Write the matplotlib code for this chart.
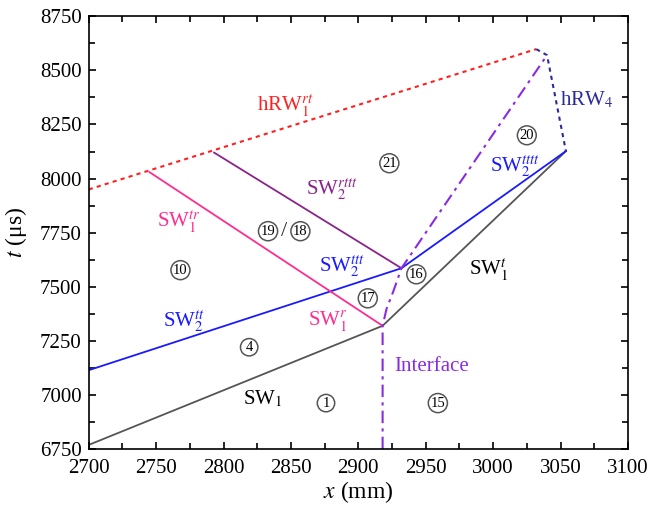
import matplotlib.pyplot as plt

plt.rcParams['font.family'] = ['Liberation Serif', 'DejaVu Serif']
plt.rcParams['mathtext.fontset'] = 'stix'

# wave paths (x in mm, t in us)
sw1_x = [2700, 2918, 3054]
sw1_t = [6770, 7320, 8127]
sw2_x = [2700, 2932, 3054]
sw2_t = [7115, 7586, 8127]
sw1tr_x = [2745, 2918]
sw1tr_t = [8030, 7320]
sw2rttt_x = [2793, 2932]
sw2rttt_t = [8120, 7586]
hrw1_x = [2700, 3032]
hrw1_t = [7950, 8598]
hrw4_x = [3032, 3040, 3054]
hrw4_t = [8598, 8570, 8127]
iface_x = [2918, 2918, 2921, 2926, 2932, 3040]
iface_t = [6750, 7320, 7400, 7480, 7586, 8570]

# region numbers
region_ids = ['1', '15', '4', '10', '17', '16', '19', '18', '21', '20']
region_x = [2876, 2959, 2819, 2768, 2907, 2943, 2833, 2857, 2923, 3025]
region_t = [6963, 6963, 7221, 7577, 7447, 7558, 7757, 7757, 8071, 8200]

# wave labels
labels = [r'hRW$_{\mathrm{1}}^{rt}$', r'SW$_{\mathrm{2}}^{rttt}$', r'SW$_{\mathrm{1}}^{tr}$',
          r'SW$_{\mathrm{2}}^{ttt}$', r'SW$_{\mathrm{1}}^{r}$', r'SW$_{\mathrm{2}}^{tt}$',
          r'SW$_{\mathrm{1}}$', r'SW$_{\mathrm{1}}^{t}$', r'SW$_{\mathrm{2}}^{tttt}$',
          r'hRW$_{\mathrm{4}}$', 'Interface']
label_x = [2846, 2880, 2767, 2888, 2877, 2771, 2829, 2997, 3016, 3069, 2954]
label_t = [8335, 7950, 7800, 7590, 7340, 7340, 6980, 7580, 8052, 8365, 7130]
label_colors = ['#ff2020', '#8b238b', '#ff2d8f', '#1a1aff', '#ff2d8f', '#1a1aff',
                'black', 'black', '#1a1aff', '#2a2aa0', '#8a2be2']

fig = plt.figure(figsize=(6.48, 5.07), dpi=100)
ax = fig.add_axes([0.137, 0.114, 0.832, 0.854])

ax.plot(hrw1_x, hrw1_t, color='#ff2020', ls=(0, (2, 2)), lw=1.5)
ax.plot(hrw4_x, hrw4_t, color='#2a2aa0', ls=(0, (2, 2)), lw=1.5)
ax.plot(sw1_x, sw1_t, color='#555555', lw=1.3)
ax.plot(sw2_x, sw2_t, color='#1a1aff', lw=1.3)
ax.plot(sw1tr_x, sw1tr_t, color='#ff2d8f', lw=1.3)
ax.plot(sw2rttt_x, sw2rttt_t, color='#8b238b', lw=1.3)
ax.plot(iface_x, iface_t, color='#8a2be2', ls=(0, (6, 2.5, 1.5, 2.5)), lw=1.5)

for s, x, t in zip(region_ids, region_x, region_t):
    ax.text(x, t, s, ha='center', va='center', fontsize=10.5,
            bbox=dict(boxstyle='circle,pad=0.15', fc='white', ec='#555555', lw=1.1))
ax.text((region_x[6] + region_x[7]) / 2, region_t[6], '/', ha='center', va='center',
        fontsize=16, color='#333333')

for s, x, t, c in zip(labels, label_x, label_t, label_colors):
    ax.text(x, t, s, ha='center', va='center', fontsize=15, color=c)

ax.set_xlim(2700, 3100)
ax.set_ylim(6750, 8750)
ax.set_xticks(range(2700, 3101, 50))
ax.set_xticks(range(2725, 3100, 50), minor=True)
ax.set_yticks(range(6750, 8751, 250))
ax.set_yticks(range(6875, 8750, 250), minor=True)
ax.tick_params(which='both', direction='in', top=True, right=True, labelsize=15, width=1.2)
ax.tick_params(which='major', length=5)
ax.tick_params(which='minor', length=4)
ax.tick_params(axis='x', pad=7)
ax.tick_params(axis='y', pad=5)
for sp in ax.spines.values():
    sp.set_linewidth(1.2)

ax.set_xlabel(r'$x$ (mm)', fontsize=17, labelpad=1)
ax.set_ylabel(r'$t$ (μs)', fontsize=17, labelpad=8)

fig.savefig('out.png', dpi=100)
